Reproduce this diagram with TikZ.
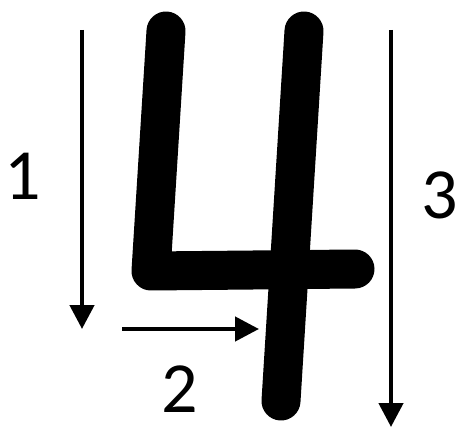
\documentclass[tikz,border=0pt]{standalone}
\usepackage{fontspec}
\setmainfont{Carlito}
\usetikzlibrary{arrows.meta}
\begin{document}
\begin{tikzpicture}[x=1pt,y=-1pt,
  glyph/.style={line width=39pt,line cap=round,line join=round},
  dirarrow/.style={line width=4.5pt,-{Triangle[length=24pt,width=24pt]}},
  numlabel/.style={font=\fontsize{72}{72}\selectfont,inner sep=0pt}]
\useasboundingbox (0,0) rectangle (456,428);
% the "4"
\coordinate (ltop) at (166,31);
\coordinate (corner) at (151,271);
\coordinate (rend) at (355,269);
\coordinate (rtop) at (304,31);
\coordinate (rbot) at (281,401);
\draw[glyph] (ltop) -- (corner) -- (rend);
\draw[glyph] (rtop) -- (rbot);
% arrows
\coordinate (a1s) at (82,30);
\coordinate (a1e) at (82,329);
\coordinate (a2s) at (122,329);
\coordinate (a2e) at (259,329);
\coordinate (a3s) at (391,30);
\coordinate (a3e) at (391,427);
\draw[dirarrow] (a1s) -- (a1e);
\draw[dirarrow] (a2s) -- (a2e);
\draw[dirarrow] (a3s) -- (a3e);
% labels
\node[numlabel] (l1) at (23,176) {1};
\node[numlabel] (l2) at (180,389) {2};
\node[numlabel] (l3) at (440,195) {3};
\end{tikzpicture}
\end{document}
